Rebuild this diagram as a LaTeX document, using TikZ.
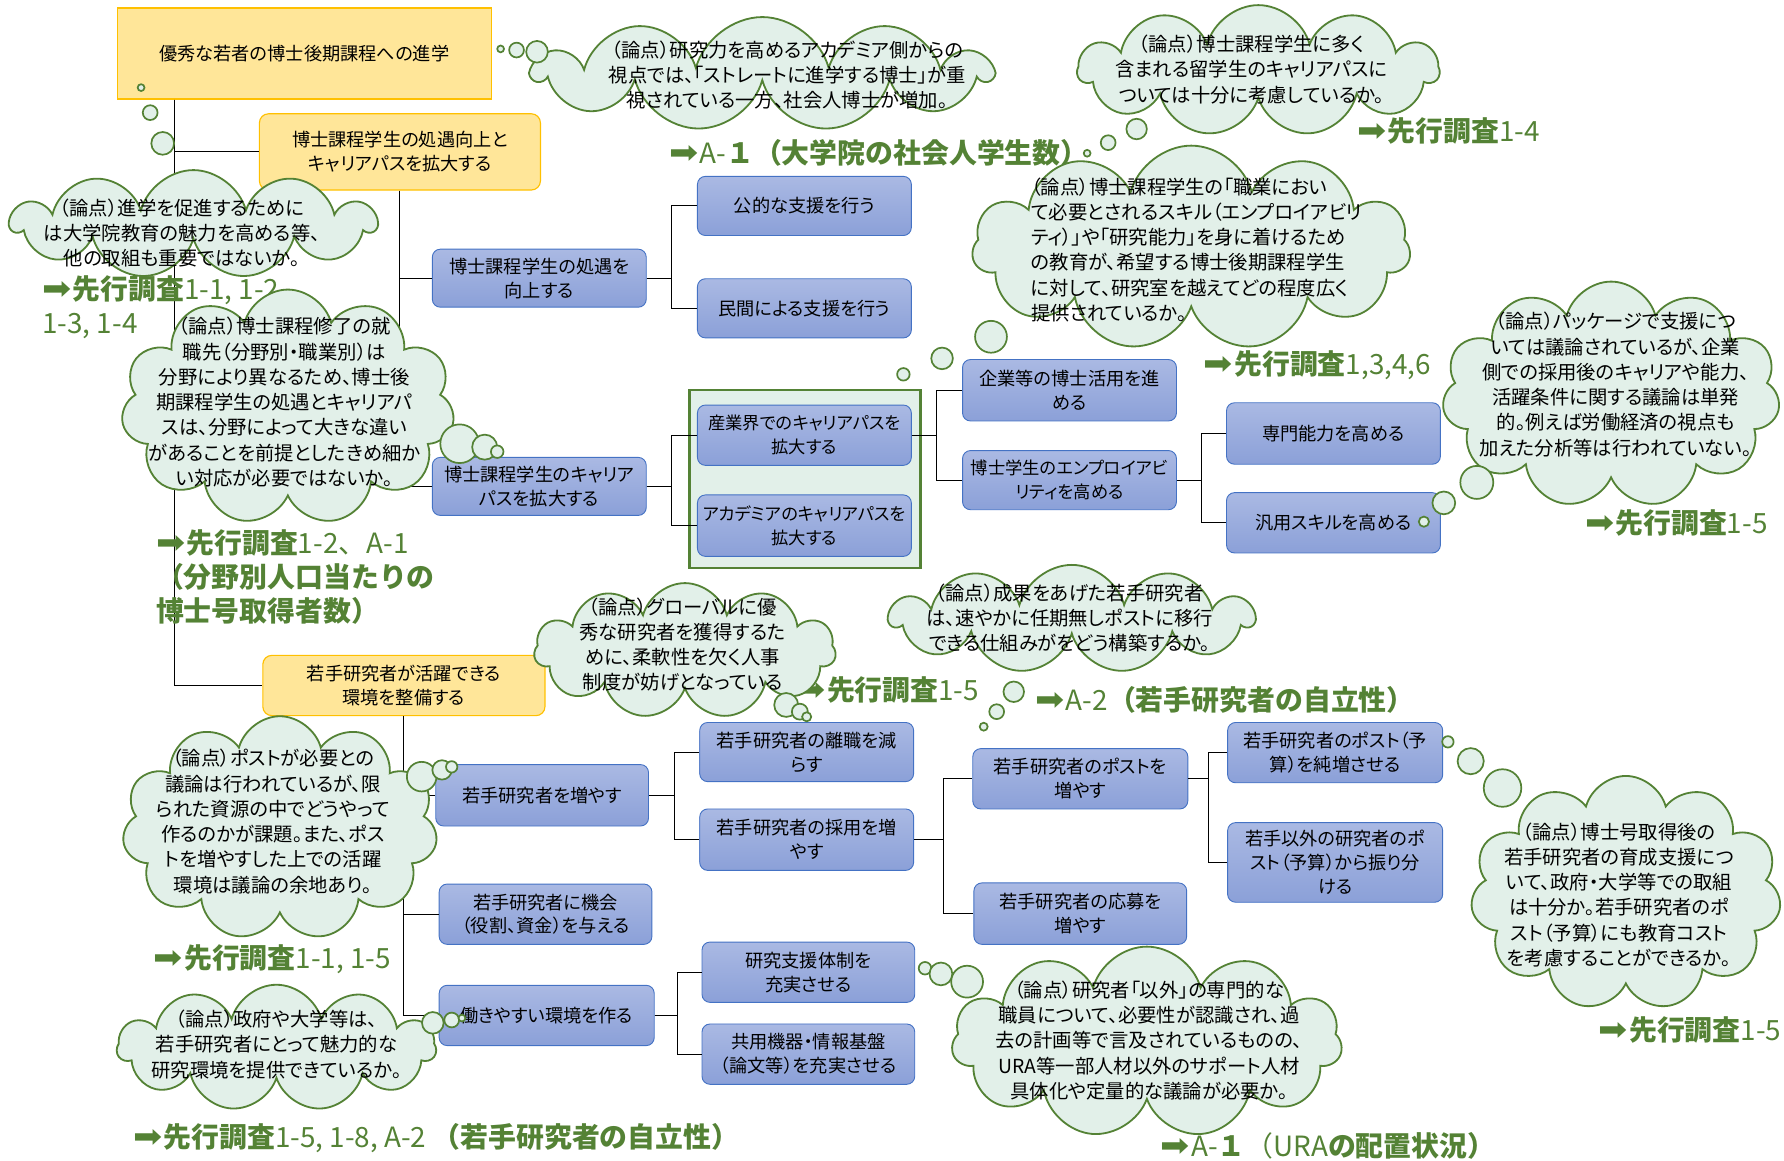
\documentclass[tikz,border=0pt]{standalone}
\usepackage{fontspec}
\setmainfont{Noto Sans CJK JP}[RawFeature=+palt]
\newfontfamily\jpfull{Noto Sans CJK JP}
\newfontfamily\symfont{DejaVu Sans}
\usetikzlibrary{shapes.symbols,calc}
\definecolor{cGfill}{HTML}{E2F0E9}
\definecolor{cGline}{HTML}{548235}
\definecolor{cYfill}{HTML}{FFE699}
\definecolor{cYline}{HTML}{FFC000}
\definecolor{cBtop}{HTML}{AAB9E3}
\definecolor{cBbot}{HTML}{8BA0D8}
\definecolor{cBline}{HTML}{4472C4}
\newcommand\arw{\scalebox{1.25}[1.15]{\symfont ➡}\kern1pt}
\tikzset{
  yboxsq/.style={draw=cYline, fill=cYfill, line width=1pt, align=center, inner sep=0pt,
    font=\fontsize{16}{21}\selectfont},
  yboxr/.style={yboxsq, rounded corners=8pt},
  bbox/.style={draw=cBline, top color=cBtop, bottom color=cBbot, rounded corners=7pt,
    line width=0.8pt, align=center, inner sep=0pt, font=\fontsize{16}{21}\selectfont},
  bboxs/.style={bbox, font=\fontsize{15.2}{21}\selectfont},
  cloudsh/.style={cloud, cloud puffs=11, cloud ignores aspect, draw=cGline, fill=cGfill,
    line width=1.6pt, inner sep=0pt},
  ctext/.style={align=center, inner sep=0pt, font=\fontsize{17}{22.2}\selectfont},
  bub/.style={circle, draw=cGline, fill=cGfill, line width=1.5pt, inner sep=0pt},
  lbl/.style={text=cGline, anchor=west, inner sep=0pt, align=left,
    font=\jpfull\fontsize{24.5}{30}\selectfont},
  conn/.style={draw=black, line width=0.9pt},
  grp/.style={draw=cGline, fill=cGfill, line width=2pt, inner sep=0pt},
}
\begin{document}
\begin{tikzpicture}[x=1pt,y=-1pt]
\useasboundingbox (0,0) rectangle (1568,1020);

% group rectangle
\node[grp, minimum width=203, minimum height=156] (grp) at (707.5,421) {};

% boxes
\node[yboxsq, minimum width=329, minimum height=80] (A) at (267.5,47) {優秀な若者の博士後期課程への進学};
\node[yboxr, minimum width=247, minimum height=67] (B) at (351.5,133.5) {博士課程学生の処遇向上と\\キャリアパスを拡大する};
\node[yboxr, minimum width=248, minimum height=53] (C) at (355,602.5) {若手研究者が活躍できる\\環境を整備する};

\node[bbox, minimum width=188, minimum height=51] (b1) at (474,244.5) {博士課程学生の処遇を\\向上する};
\node[bbox, minimum width=188, minimum height=52] (b11) at (707,181) {公的な支援を行う};
\node[bbox, minimum width=188, minimum height=52] (b12) at (707,271) {民間による支援を行う};
\node[bbox, minimum width=188, minimum height=51] (b2) at (474,427.5) {博士課程学生のキャリア\\パスを拡大する};
\node[bboxs, minimum width=188, minimum height=53] (b21) at (707,382.5) {産業界でのキャリアパスを\\拡大する};
\node[bboxs, minimum width=188, minimum height=54] (b22) at (707,462) {アカデミアのキャリアパスを\\拡大する};
\node[bbox, minimum width=188, minimum height=54] (b211) at (940,343) {企業等の博士活用を進\\める};
\node[bboxs, minimum width=188, minimum height=52] (b212) at (940,422) {博士学生のエンプロイアビ\\リティを高める};
\node[bbox, minimum width=188, minimum height=54] (b2121) at (1172,381) {専門能力を高める};
\node[bbox, minimum width=188, minimum height=53] (b2122) at (1172,459.5) {汎用スキルを高める};

\node[bbox, minimum width=187, minimum height=54] (c1) at (476.5,699) {若手研究者を増やす};
\node[bbox, minimum width=188, minimum height=52] (c11) at (709,661) {若手研究者の離職を減\\らす};
\node[bbox, minimum width=188, minimum height=54] (c12) at (709,738) {若手研究者の採用を増\\やす};
\node[bbox, minimum width=189, minimum height=53] (c121) at (949.5,684.5) {若手研究者のポストを\\増やす};
\node[bbox, minimum width=187, minimum height=54] (c122) at (949.5,803) {若手研究者の応募を\\増やす};
\node[bbox, minimum width=189, minimum height=53] (c1211) at (1173.5,661.5) {若手研究者のポスト（予\\算）を純増させる};
\node[bbox, minimum width=189, minimum height=70] (c1212) at (1173.5,758) {若手以外の研究者のポ\\スト（予算）から振り分\\ける};
\node[bbox, minimum width=187, minimum height=53] (c2) at (479.5,803.5) {若手研究者に機会\\（役割、資金）を与える};
\node[bbox, minimum width=189, minimum height=53] (c3) at (480.5,892.5) {働きやすい環境を作る};
\node[bbox, minimum width=187, minimum height=53] (c31) at (710.5,854.5) {研究支援体制を\\充実させる};
\node[bbox, minimum width=187, minimum height=53] (c32) at (710.5,926.5) {共用機器・情報基盤\\（論文等）を充実させる};

% connectors
\draw[conn] ([xshift=51pt]A.south west) |- (B.west);
\draw[conn] ([xshift=51pt]A.south west) |- (C.west);
\draw[conn] (B.south) |- (b1.west);
\draw[conn] (B.south) |- (b2.west);
\draw[conn] (b1.east) -- ++(22,0) |- (b11.west);
\draw[conn] (b1.east) -- ++(22,0) |- (b12.west);
\draw[conn] (b2.east) -- ++(22,0) |- (b21.west);
\draw[conn] (b2.east) -- ++(22,0) |- (b22.west);
\draw[conn] (b21.east) -- ++(22,0) |- (b211.west);
\draw[conn] (b21.east) -- ++(22,0) |- (b212.west);
\draw[conn] (b212.east) -- ++(22,0) |- (b2121.west);
\draw[conn] (b212.east) -- ++(22,0) |- (b2122.west);
\draw[conn] (C.south) |- (c1.west);
\draw[conn] (C.south) |- (c2.west);
\draw[conn] (C.south) |- (c3.west);
\draw[conn] (c1.east) -- ++(22,0) |- (c11.west);
\draw[conn] (c1.east) -- ++(22,0) |- (c12.west);
\draw[conn] (c12.east) -- ++(26,0) |- (c121.west);
\draw[conn] (c12.east) -- ++(26,0) |- (c122.west);
\draw[conn] (c121.east) -- ++(18,0) |- (c1211.west);
\draw[conn] (c121.east) -- ++(18,0) |- (c1212.west);
\draw[conn] (c3.east) -- ++(20,0) |- (c31.west);
\draw[conn] (c3.east) -- ++(20,0) |- (c32.west);

% labels
\node[lbl] (L1) at (588,134) {\arw A-\textbf{１（大学院の社会人学生数）}};
\node[lbl] (L2) at (37,270) {\arw\textbf{先行調査}1-1, 1-2,\\1-3, 1-4};
\node[lbl] (L3) at (137,507) {\arw\textbf{先行調査}1-2、A-1\\\textbf{（分野別人口当たりの}\\\textbf{博士号取得者数）}};
\node[lbl] (L4) at (1193,115) {\arw\textbf{先行調査}1-4};
\node[lbl] (L5) at (1058,321) {\arw\textbf{先行調査}1,3,4,6};
\node[lbl] (L6) at (1393,460) {\arw\textbf{先行調査}1-5};
\node[lbl] (L7) at (700,606) {\arw\textbf{先行調査}1-5};
\node[lbl] (L8) at (910,615) {\arw A-2\textbf{（若手研究者の自立性）}};
\node[lbl] (L9) at (135,843) {\arw\textbf{先行調査}1-1, 1-5};
\node[lbl] (L10) at (117,1000) {\arw\textbf{先行調査}1-5, 1-8, A-2 \textbf{（若手研究者の自立性）}};
\node[lbl] (L11) at (1020,1007) {\arw A-\textbf{１}（URA\textbf{の配置状況）}};
\node[lbl] (L12) at (1405,905) {\arw\textbf{先行調査}1-5};

% clouds
\node[cloudsh, minimum width=400, minimum height=100] (k1) at (670,65) {};
\node[ctext] (k1t) at (692,66) {（論点）研究力を高めるアカデミア側からの\\視点では、「ストレートに進学する博士」が重\\視されている一方、社会人博士が増加。};

\node[cloudsh, minimum width=320, minimum height=95] (k2) at (170,197) {};
\node[ctext] (k2t) at (160,205) {（論点）進学を促進するために\\は大学院教育の魅力を高める等、\\他の取組も重要ではないか。};

\node[cloudsh, minimum width=293, minimum height=207] (k3) at (253,358) {};
\node[ctext] (k3t) at (250,353.5) {（論点）博士課程修了の就\\職先（分野別・職業別）は\\分野により異なるため、博士後\\期課程学生の処遇とキャリアパ\\スは、分野によって大きな違い\\があることを前提としたきめ細か\\い対応が必要ではないか。};

\node[cloudsh, minimum width=317, minimum height=115] (k4) at (1106,62) {};
\node[ctext] (k4t) at (1100,61) {（論点）博士課程学生に多く\\含まれる留学生のキャリアパスに\\ついては十分に考慮しているか。};

\node[cloudsh, minimum width=385, minimum height=180] (k5) at (1047,218) {};
\node[ctext, align=left, anchor=west] (k5t) at (906,219.5) {（論点）博士課程学生の「職業におい\\て必要とされるスキル（エンプロイアビリ\\ティ）」や「研究能力」を身に着けるため\\の教育が、希望する博士後期課程学生\\に対して、研究室を越えてどの程度広く\\提供されているか。};

\node[cloudsh, minimum width=297, minimum height=199] (k6) at (1416,347) {};
\node[ctext] (k6t) at (1420,338) {（論点）パッケージで支援につ\\いては議論されているが、企業\\側での採用後のキャリアや能力、\\活躍条件に関する議論は単発\\的。例えば労働経済の視点も\\加えた分析等は行われていない。};

\node[cloudsh, minimum width=265, minimum height=119] (k7) at (602,572) {};
\node[ctext] (k7t) at (600,566.5) {（論点）グローバルに優\\秀な研究者を獲得するた\\めに、柔軟性を欠く人事\\制度が妨げとなっている};

\node[cloudsh, minimum width=319, minimum height=95] (k8) at (942,544) {};
\node[ctext] (k8t) at (940,543) {（論点）成果をあげた若手研究者\\は、速やかに任期無しポストに移行\\できる仕組みがをどう構築するか。};

\node[cloudsh, minimum width=277, minimum height=197] (k9) at (246,728) {};
\node[ctext] (k9t) at (240,722) {（論点）ポストが必要との\\議論は行われているが、限\\られた資源の中でどうやって\\作るのかが課題。また、ポス\\トを増やすした上での活躍\\環境は議論の余地あり。};

\node[cloudsh, minimum width=280, minimum height=111] (k10) at (243,921) {};
\node[ctext] (k10t) at (243,918) {（論点）政府や大学等は、\\若手研究者にとって魅力的な\\研究環境を提供できているか。};

\node[cloudsh, minimum width=343, minimum height=168] (k11) at (1008,916) {};
\node[ctext] (k11t) at (1010,914.5) {（論点）研究者「以外」の専門的な\\職員について、必要性が認識され、過\\去の計画等で言及されているものの、\\URA等一部人材以外のサポート人材\\具体化や定量的な議論が必要か。};

\node[cloudsh, minimum width=273, minimum height=206] (k12) at (1429,785) {};
\node[ctext] (k12t) at (1423,786.5) {（論点）博士号取得後の\\若手研究者の育成支援につ\\いて、政府・大学等での取組\\は十分か。若手研究者のポ\\スト（予算）にも教育コスト\\を考慮することができるか。};

% thought bubbles
\node[bub, minimum size=6] (p1a) at (440,43) {};
\node[bub, minimum size=13] (p1b) at (454,44) {};
\node[bub, minimum size=19] (p1c) at (472,45.5) {};

\node[bub, minimum size=6] (p2a) at (124,77) {};
\node[bub, minimum size=13] (p2b) at (132,99) {};
\node[bub, minimum size=20] (p2c) at (143,126) {};

\node[bub, minimum size=34] (p3a) at (404,390) {};
\node[bub, minimum size=22] (p3b) at (426,393) {};
\node[bub, minimum size=11] (p3c) at (437,397) {};

\node[bub, minimum size=6] (p4a) at (955.5,134.7) {};
\node[bub, minimum size=13] (p4b) at (974,125.4) {};
\node[bub, minimum size=18] (p4c) at (999,113.4) {};

\node[bub, minimum size=28] (p5a) at (871,296) {};
\node[bub, minimum size=19] (p5b) at (828,315) {};
\node[bub, minimum size=11] (p5c) at (794,329) {};

\node[bub, minimum size=9] (p6a) at (1251.5,458.5) {};
\node[bub, minimum size=20] (p6b) at (1269,442) {};
\node[bub, minimum size=29] (p6c) at (1298,424) {};

\node[bub, minimum size=21] (p7a) at (691,619.6) {};
\node[bub, minimum size=14] (p7b) at (703,625.5) {};
\node[bub, minimum size=8] (p7c) at (709,630) {};

\node[bub, minimum size=18] (p8a) at (891,608) {};
\node[bub, minimum size=13] (p8b) at (876,625.5) {};
\node[bub, minimum size=7] (p8c) at (864.6,638.7) {};

\node[bub, minimum size=26] (p9a) at (370.6,682.6) {};
\node[bub, minimum size=17] (p9b) at (388.5,676.7) {};
\node[bub, minimum size=10] (p9c) at (397,674) {};

\node[bub, minimum size=19] (p10a) at (380.4,899) {};
\node[bub, minimum size=13] (p10b) at (397,896.5) {};
\node[bub, minimum size=6] (p10c) at (406,894.8) {};

\node[bub, minimum size=11] (p11a) at (813,851) {};
\node[bub, minimum size=20] (p11b) at (827,856) {};
\node[bub, minimum size=28] (p11c) at (850,862.8) {};

\node[bub, minimum size=10] (p12a) at (1272.6,652) {};
\node[bub, minimum size=23] (p12b) at (1292.6,669) {};
\node[bub, minimum size=33] (p12c) at (1320.6,692.6) {};
\end{tikzpicture}
\end{document}
